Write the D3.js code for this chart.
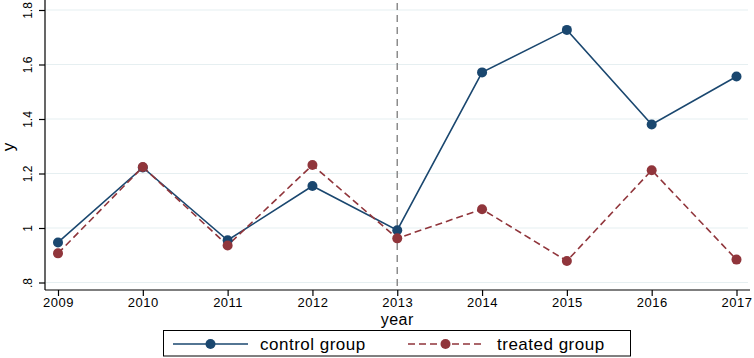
<!DOCTYPE html>
<html lang="en">
<head>
<meta charset="UTF-8">
<title>control vs treated</title>
<script src="https://d3js.org/d3.v7.min.js"></script>
<style>
  body { margin: 0; background: #fff; }
  svg { font-family: "Liberation Sans", Arial, sans-serif; display: block; }
  .grid line { stroke: #e6eff1; stroke-width: 1.2; }
  .axis path, .axis line { stroke: #000; stroke-width: 1.2; }
  .axis text { font-size: 12px; fill: #000; }
  .xaxis text { font-size: 13px; letter-spacing: 0.5px; }
</style>
</head>
<body>
<svg width="754" height="358"></svg>
<script>
const years = [2009, 2010, 2011, 2012, 2013, 2014, 2015, 2016, 2017];
const control = [0.947, 1.222, 0.955, 1.154, 0.992, 1.571, 1.727, 1.380, 1.556];
const treated = [0.907, 1.224, 0.936, 1.231, 0.962, 1.069, 0.879, 1.212, 0.884];
const yTicks = [0.8, 1.0, 1.2, 1.4, 1.6, 1.8];
const treatYear = 2013;

const svg = d3.select("svg"),
    plotLeft = 45, plotRight = 750, plotTop = 0, plotBottom = 290;

const x = d3.scaleLinear().domain([2009, 2017]).range([58, 736.5]);
const y = d3.scaleLinear().domain([0.8, 1.8]).range([282.5, 10]);

// gridlines
svg.append("g").attr("class", "grid")
  .selectAll("line").data(yTicks).join("line")
  .attr("x1", plotLeft + 1).attr("x2", plotRight - 2)
  .attr("y1", d => y(d)).attr("y2", d => y(d));

// y axis
const yAxis = svg.append("g").attr("class", "axis")
  .attr("transform", `translate(${plotLeft},0)`)
  .call(d3.axisLeft(y).tickValues(yTicks).tickSize(6).tickSizeOuter(0)
    .tickFormat(d => d3.format(".1f")(d).replace(/^0/, "").replace(/\.0$/, "")));
yAxis.select(".domain").attr("d", `M0,${plotTop}V${plotBottom}`);
yAxis.selectAll("text")
  .attr("transform", "rotate(-90)")
  .attr("x", 0).attr("y", -13).attr("dy", 0)
  .attr("text-anchor", "middle");

// x axis
const xAxis = svg.append("g").attr("class", "axis xaxis")
  .attr("transform", `translate(0,${plotBottom})`)
  .call(d3.axisBottom(x).tickValues(years).tickSize(6).tickSizeOuter(0).tickFormat(d3.format("d")));
xAxis.select(".domain").attr("d", `M${plotLeft},0H${plotRight}`);
xAxis.selectAll("text").attr("y", 8);

// axis titles
svg.append("text")
  .attr("transform", `translate(14,147) rotate(-90)`)
  .attr("text-anchor", "middle").attr("font-size", 17).text("y");
svg.append("text")
  .attr("x", x(2013)).attr("y", 325)
  .attr("text-anchor", "middle").attr("font-size", 16)
  .attr("letter-spacing", "0.5px").text("year");

// treatment line
svg.append("line")
  .attr("x1", x(treatYear)).attr("x2", x(treatYear))
  .attr("y1", 3).attr("y2", plotBottom)
  .attr("stroke", "#8c8c8c").attr("stroke-width", 1.5)
  .attr("stroke-dasharray", "7,5");

const line = d3.line().x((d, i) => x(years[i])).y(d => y(d));

const series = [
  {name: "control group", values: control, color: "#1a476f", dash: null},
  {name: "treated group", values: treated, color: "#90353b", dash: "7,4"}
];

series.forEach(s => {
  svg.append("path").datum(s.values)
    .attr("fill", "none").attr("stroke", s.color).attr("stroke-width", 1.6)
    .attr("stroke-dasharray", s.dash).attr("d", line);
});
series.forEach(s => {
  svg.append("g").selectAll("circle").data(s.values).join("circle")
    .attr("cx", (d, i) => x(years[i])).attr("cy", d => y(d))
    .attr("r", 5).attr("fill", s.color);
});

// legend
const lg = svg.append("g");
lg.append("rect").attr("x", 163.5).attr("y", 330.5).attr("width", 467).attr("height", 25.5)
  .attr("fill", "#fff").attr("stroke", "#000").attr("stroke-width", 1);
const items = [{x0: 173, x1: 248, tx: 260}, {x0: 408, x1: 483, tx: 497}];
series.forEach((s, i) => {
  const it = items[i];
  lg.append("line").attr("x1", it.x0).attr("x2", it.x1).attr("y1", 344).attr("y2", 344)
    .attr("stroke", s.color).attr("stroke-width", 1.6).attr("stroke-dasharray", s.dash);
  lg.append("circle").attr("cx", (it.x0 + it.x1) / 2).attr("cy", 344).attr("r", 5).attr("fill", s.color);
  lg.append("text").attr("x", it.tx).attr("y", 350).attr("font-size", 17)
    .attr("letter-spacing", "0.5px").text(s.name);
});
</script>
</body>
</html>
